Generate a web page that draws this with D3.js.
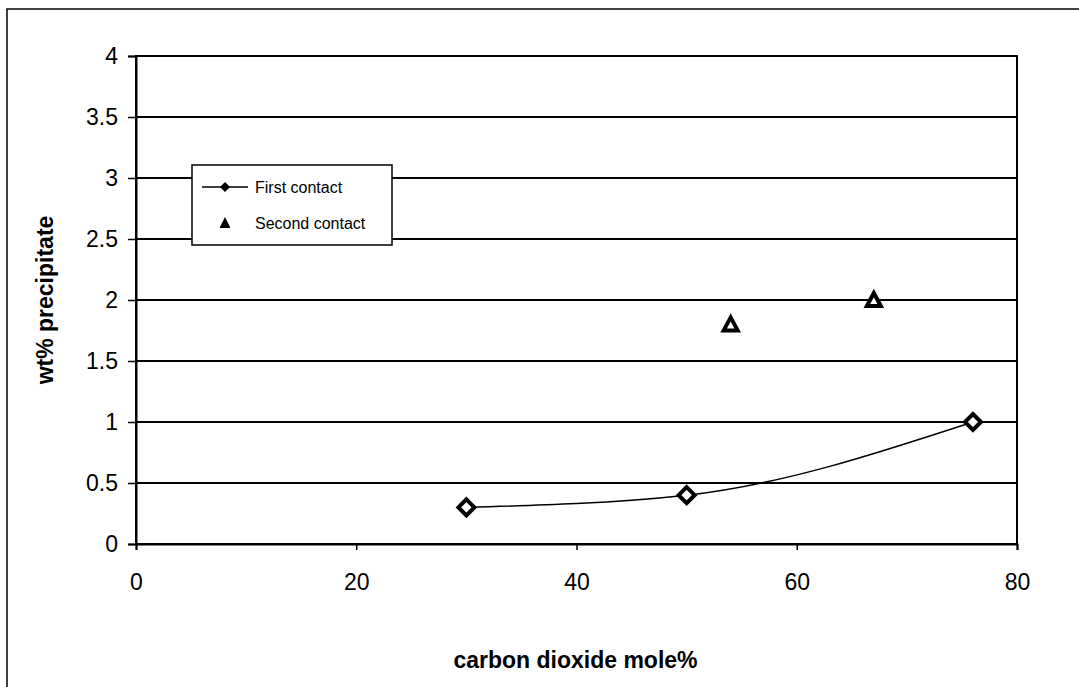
<!DOCTYPE html>
<html>
<head>
<meta charset="utf-8">
<script src="https://cdn.jsdelivr.net/npm/d3@7"></script>
<style>
  body { margin: 0; background: #fff; }
  svg { display: block; font-family: "Liberation Sans", Arial, sans-serif; }
</style>
</head>
<body>
<svg width="1079" height="687"></svg>
<script>
// data
var firstX = [30, 50, 76];
var firstY = [0.3, 0.4, 1.0];
var secondX = [54, 67];
var secondY = [1.8, 2.0];
var xTicks = [0, 20, 40, 60, 80];
var yTicks = [0, 0.5, 1, 1.5, 2, 2.5, 3, 3.5, 4];

var svg = d3.select("svg");

// outer frame (right/bottom run off the page)
svg.append("rect")
  .attr("x", 7).attr("y", 9)
  .attr("width", 1100).attr("height", 700)
  .attr("fill", "none").attr("stroke", "#000").attr("stroke-width", 1.5);

// plot area edges
var pLeft = 136, pRight = 1017, pTop = 56, pBottom = 544;

var x = d3.scaleLinear().domain([0, 80]).range([pLeft, pRight]);
var y = d3.scaleLinear().domain([0, 4]).range([pBottom, pTop]);

// gridlines
svg.append("g").selectAll("line")
  .data(yTicks.filter(function(d){ return d > 0; }))
  .enter().append("line")
  .attr("x1", pLeft).attr("x2", pRight)
  .attr("y1", function(d){ return y(d); })
  .attr("y2", function(d){ return y(d); })
  .attr("stroke", "#000").attr("stroke-width", 2);

// plot frame
svg.append("rect")
  .attr("x", pLeft).attr("y", pTop)
  .attr("width", pRight - pLeft).attr("height", pBottom - pTop)
  .attr("fill", "none").attr("stroke", "#000").attr("stroke-width", 2);

// y axis
var yAxis = svg.append("g")
  .attr("transform", "translate(" + pLeft + ",0)")
  .call(d3.axisLeft(y).tickValues(yTicks).tickSize(8).tickPadding(10)
    .tickFormat(function(d){ return d; }));
yAxis.select(".domain").attr("stroke-width", 2);
yAxis.selectAll(".tick line").attr("stroke-width", 1.5);
yAxis.selectAll("text").attr("font-size", 23).attr("fill", "#000")
  .attr("font-family", "Liberation Sans, Arial, sans-serif");

// x axis
var xAxis = svg.append("g")
  .attr("transform", "translate(0," + pBottom + ")")
  .call(d3.axisBottom(x).tickValues(xTicks).tickSize(6).tickPadding(24));
xAxis.select(".domain").attr("stroke-width", 2);
xAxis.selectAll(".tick line").attr("stroke-width", 1.5);
xAxis.selectAll("text").attr("font-size", 23).attr("fill", "#000")
  .attr("font-family", "Liberation Sans, Arial, sans-serif");

// axis titles
svg.append("text")
  .text("carbon dioxide mole%")
  .attr("x", (pLeft + pRight) / 2 - 1)
  .attr("y", 668)
  .attr("text-anchor", "middle")
  .attr("font-size", 23)
  .attr("font-weight", "bold");

svg.append("text")
  .text("wt% precipitate")
  .attr("transform", "translate(53," + ((pTop + pBottom) / 2) + ") rotate(-90)")
  .attr("text-anchor", "middle")
  .attr("font-size", 23)
  .attr("font-weight", "bold");

// first contact line, smoothed
var firstData = firstX.map(function(d, i){ return [d, firstY[i]]; });
var line = d3.line()
  .x(function(d){ return x(d[0]); })
  .y(function(d){ return y(d[1]); })
  .curve(d3.curveMonotoneX);

svg.append("path")
  .datum(firstData)
  .attr("d", line)
  .attr("fill", "none")
  .attr("stroke", "#000")
  .attr("stroke-width", 1.5);

// diamond markers
svg.append("g").selectAll("path")
  .data(firstData)
  .enter().append("path")
  .attr("transform", function(d){ return "translate(" + x(d[0]) + "," + y(d[1]) + ")"; })
  .attr("d", "M0,-8L8,0L0,8L-8,0Z")
  .attr("fill", "#fff")
  .attr("stroke", "#000")
  .attr("stroke-width", 4);

// triangle markers
var secondData = secondX.map(function(d, i){ return [d, secondY[i]]; });
svg.append("g").selectAll("path")
  .data(secondData)
  .enter().append("path")
  .attr("transform", function(d){ return "translate(" + x(d[0]) + "," + y(d[1]) + ")"; })
  .attr("d", "M0,-7L7,6L-7,6Z")
  .attr("fill", "#fff")
  .attr("stroke", "#000")
  .attr("stroke-width", 4)
  .attr("stroke-linejoin", "miter");

// legend
var legend = svg.append("g").attr("transform", "translate(192,165)");
legend.append("rect")
  .attr("width", 200).attr("height", 80)
  .attr("fill", "#fff").attr("stroke", "#000").attr("stroke-width", 1.5);

legend.append("line")
  .attr("x1", 10).attr("x2", 56).attr("y1", 22).attr("y2", 22)
  .attr("stroke", "#000").attr("stroke-width", 1.5);
legend.append("path")
  .attr("transform", "translate(33,22)")
  .attr("d", "M0,-5L5,0L0,5L-5,0Z")
  .attr("fill", "#000");
legend.append("text")
  .text("First contact")
  .attr("x", 63).attr("y", 28)
  .attr("font-size", 16);

legend.append("path")
  .attr("transform", "translate(33,58)")
  .attr("d", "M0,-6L5.5,5L-5.5,5Z")
  .attr("fill", "#000");
legend.append("text")
  .text("Second contact")
  .attr("x", 63).attr("y", 64)
  .attr("font-size", 16);
</script>
</body>
</html>
